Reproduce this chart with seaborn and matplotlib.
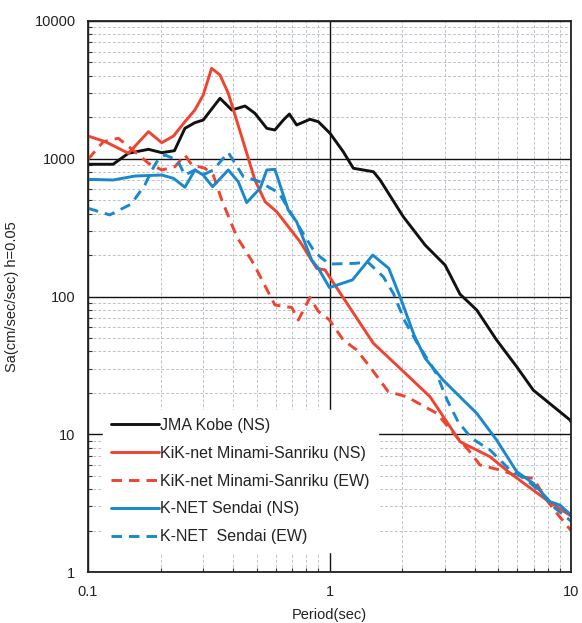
import numpy as np
import pandas as pd
import matplotlib
matplotlib.use("Agg")
import matplotlib.pyplot as plt
import matplotlib.ticker as mticker
import seaborn as sns

# ---- data ----
kobe_T = [0.1, 0.127, 0.147, 0.178, 0.202, 0.228, 0.252, 0.277, 0.300, 0.352, 0.394, 0.447,
          0.491, 0.550, 0.594, 0.644, 0.682, 0.731, 0.830, 0.899, 1.005, 1.14, 1.255, 1.52,
          1.62, 2.02, 2.49, 3.01, 3.47, 4.07, 4.92, 5.96, 6.98, 9.9, 10.0]
kobe_Sa = [912, 912, 1096, 1171, 1107, 1144, 1663, 1827, 1911, 2746, 2259, 2414,
           2138, 1663, 1617, 1911, 2112, 1758, 1934, 1858, 1530, 1125, 853, 805,
           701, 380, 236, 169, 104, 79.8, 48.3, 30.9, 20.9, 12.7, 12.3]

kik_ns_T = [0.1, 0.118, 0.147, 0.178, 0.202, 0.226, 0.252, 0.277, 0.300, 0.325, 0.352, 0.381,
            0.433, 0.491, 0.541, 0.604, 0.755, 0.885, 0.958, 1.04, 1.52, 1.96, 2.61, 3.47,
            4.62, 5.59, 7.93, 10.0]
kik_ns_Sa = [1462, 1330, 1096, 1572, 1308, 1462, 1858, 2259, 2902, 4536, 4055, 2987,
             1445, 701, 488, 413, 250, 160, 156, 125, 45.7, 30.1, 18.7, 8.83,
             6.87, 5.23, 3.33, 2.55]

kik_ew_T = [0.1, 0.1157, 0.1335, 0.1565, 0.178, 0.202, 0.229, 0.252, 0.269, 0.305, 0.330, 0.358,
            0.413, 0.484, 0.594, 0.698, 0.743, 0.830, 0.896, 1.0, 1.14, 1.296, 1.47, 1.75,
            2.09, 2.78, 3.36, 3.76, 4.20, 5.08, 6.15, 6.98, 7.93, 8.73, 10.0]
kik_ew_Sa = [991, 1330, 1408, 1125, 927, 829, 875, 1065, 901, 853, 762, 502,
             272, 174, 86.8, 83.2, 67.5, 98.4, 78.5, 67.5, 48.3, 40.9, 30.9, 20.4,
             18.7, 14.2, 9.6, 7.69, 5.98, 5.50, 4.92, 4.79, 3.33, 2.67, 2.0]

knet_ns_T = [0.1, 0.127, 0.1565, 0.202, 0.226, 0.252, 0.277, 0.300, 0.328, 0.381, 0.419, 0.454,
             0.516, 0.550, 0.594, 0.675, 0.731, 0.844, 0.899, 1.0, 1.245, 1.51, 1.76, 1.97,
             2.24, 2.49, 2.95, 3.58, 4.07, 4.92, 5.96, 6.98, 8.19, 9.0, 10.0]
knet_ns_Sa = [709, 701, 749, 762, 721, 621, 829, 762, 627, 829, 681, 481,
              610, 829, 838, 424, 349, 184, 160, 116, 132, 200, 160, 97.0,
              52.5, 35.6, 24.8, 17.7, 14.2, 9.08, 5.35, 4.40, 3.24, 3.06, 2.59]

knet_ew_T = [0.1, 0.123, 0.151, 0.172, 0.184, 0.196, 0.208, 0.234, 0.252, 0.277, 0.305, 0.330,
             0.381, 0.440, 0.506, 0.618, 0.686, 0.784, 0.857, 0.914, 1.0, 1.275, 1.44, 1.67,
             1.84, 2.05, 2.30, 2.61, 2.79, 3.07, 3.41, 3.88, 4.62, 5.59, 6.56, 7.44, 8.45, 10.0]
knet_ew_Sa = [437, 391, 469, 645, 829, 996, 1065, 979, 762, 829, 775, 829,
              1110, 741, 690, 564, 414, 280, 218, 194, 172, 174, 178, 139,
              105, 66.4, 46.4, 32.7, 26.9, 17.7, 12.3, 9.34, 7.69, 5.50, 4.65, 3.83, 2.98, 2.34]

labels = ["JMA Kobe (NS)", "KiK-net Minami-Sanriku (NS)", "KiK-net Minami-Sanriku (EW)",
          "K-NET Sendai (NS)", "K-NET  Sendai (EW)"]
x_ticks = [0.1, 1, 10]
x_ticklabels = ["0.1", "1", "10"]
y_ticks = [1, 10, 100, 1000, 10000]
y_ticklabels = ["1", "10", "100", "1000", "10000"]

# ---- styling ----
sns.set_style("white")
plt.rcParams["font.family"] = ["Liberation Sans", "DejaVu Sans"]

RED = "#EE4430"
BLUE = "#1A88CC"

series = [
    (kobe_T, kobe_Sa, labels[0], "#111111", "-"),
    (kik_ns_T, kik_ns_Sa, labels[1], RED, "-"),
    (kik_ew_T, kik_ew_Sa, labels[2], RED, "--"),
    (knet_ns_T, knet_ns_Sa, labels[3], BLUE, "-"),
    (knet_ew_T, knet_ew_Sa, labels[4], BLUE, "--"),
]

fig = plt.figure(figsize=(5.82, 6.23), dpi=100)
ax = fig.add_axes([88 / 582, 1 - 572 / 623, (571 - 88) / 582, (572 - 21) / 623])

ax.set_xscale("log")
ax.set_yscale("log")
ax.set_xlim(0.1, 10)
ax.set_ylim(1, 10000)

# grid
ax.grid(which="minor", color="#bcc3ca", linestyle=(0, (3, 2)), linewidth=0.7, zorder=0)
ax.grid(which="major", color="#111111", linestyle="-", linewidth=1.0, zorder=0)
ax.set_axisbelow(True)

for T, Sa, lab, col, ls in series:
    df = pd.DataFrame({"T": T, "Sa": Sa})
    sns.lineplot(data=df, x="T", y="Sa", ax=ax, color=col, linewidth=2.1,
                 label=lab, sort=False, estimator=None)
    line = ax.get_lines()[-1]
    if ls == "--":
        line.set_linestyle((0, (3.6, 2.4)))

ax.set_xticks(x_ticks)
ax.set_xticklabels(x_ticklabels)
ax.set_yticks(y_ticks)
ax.set_yticklabels(y_ticklabels)
ax.xaxis.set_minor_locator(mticker.LogLocator(base=10, subs=np.arange(2, 10)))
ax.yaxis.set_minor_locator(mticker.LogLocator(base=10, subs=np.arange(2, 10)))
ax.xaxis.set_minor_formatter(mticker.NullFormatter())
ax.yaxis.set_minor_formatter(mticker.NullFormatter())

ax.tick_params(which="major", direction="in", length=0, pad=9, labelsize=10.5, colors="#222222")
ax.tick_params(which="minor", direction="in", length=3, width=0.8, color="#333333")
ax.tick_params(axis="y", which="minor", left=True)
ax.tick_params(axis="x", which="minor", bottom=True)

for s in ax.spines.values():
    s.set_color("#222222")
    s.set_linewidth(1.3)

ax.set_xlabel("Period(sec)", fontsize=10.5, labelpad=7, color="#222222")
ax.set_ylabel("Sa(cm/sec/sec) h=0.05", fontsize=10.5, labelpad=11, color="#222222")

leg = ax.legend(loc="lower left", bbox_to_anchor=(0.031, 0.036), borderaxespad=0,
                frameon=True, fancybox=False, framealpha=1, edgecolor="white",
                facecolor="white", fontsize=11.5, handlelength=3.0, handletextpad=0.1,
                labelspacing=0.8, borderpad=0.5)
for t in leg.get_texts():
    t.set_color("#222222")

fig.savefig("out.png", dpi=100)
